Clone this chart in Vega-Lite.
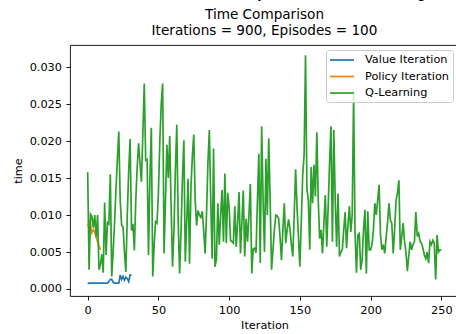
{
  "$schema": "https://vega.github.io/schema/vega-lite/v6.json",
  "width": 389,
  "height": 251,
  "autosize": {"type": "none"},
  "padding": {"left": 70, "top": 45, "right": 0, "bottom": 38},
  "title": {
    "text": "Value Iteration vs Policy Iteration vs Q-Learning",
    "subtitle": ["Time Comparison", "Iterations = 900, Episodes = 100"],
    "anchor": "middle",
    "offset": 7,
    "subtitlePadding": 7
  },
  "data": {"values": [
    {"iteration":0,"time":0.0007,"method":"Value Iteration"},{"iteration":1,"time":0.0008,"method":"Value Iteration"},{"iteration":2,"time":0.0008,"method":"Value Iteration"},{"iteration":3,"time":0.0008,"method":"Value Iteration"},{"iteration":4,"time":0.0008,"method":"Value Iteration"},{"iteration":5,"time":0.0008,"method":"Value Iteration"},{"iteration":6,"time":0.0008,"method":"Value Iteration"},{"iteration":7,"time":0.0008,"method":"Value Iteration"},{"iteration":8,"time":0.0008,"method":"Value Iteration"},{"iteration":9,"time":0.0008,"method":"Value Iteration"},{"iteration":10,"time":0.0008,"method":"Value Iteration"},{"iteration":11,"time":0.0008,"method":"Value Iteration"},{"iteration":12,"time":0.0008,"method":"Value Iteration"},{"iteration":13,"time":0.0008,"method":"Value Iteration"},{"iteration":14,"time":0.0008,"method":"Value Iteration"},{"iteration":15,"time":0.0010,"method":"Value Iteration"},{"iteration":16,"time":0.0013,"method":"Value Iteration"},{"iteration":17,"time":0.0013,"method":"Value Iteration"},{"iteration":18,"time":0.0009,"method":"Value Iteration"},{"iteration":19,"time":0.0008,"method":"Value Iteration"},{"iteration":20,"time":0.0008,"method":"Value Iteration"},{"iteration":21,"time":0.0008,"method":"Value Iteration"},{"iteration":22,"time":0.0008,"method":"Value Iteration"},{"iteration":23,"time":0.0019,"method":"Value Iteration"},{"iteration":24,"time":0.0013,"method":"Value Iteration"},{"iteration":25,"time":0.0017,"method":"Value Iteration"},{"iteration":26,"time":0.0012,"method":"Value Iteration"},{"iteration":27,"time":0.0016,"method":"Value Iteration"},{"iteration":28,"time":0.0014,"method":"Value Iteration"},{"iteration":29,"time":0.0010,"method":"Value Iteration"},{"iteration":30,"time":0.0019,"method":"Value Iteration"},{"iteration":31,"time":0.0019,"method":"Value Iteration"},
    {"iteration":0,"time":0.0085,"method":"Policy Iteration"},{"iteration":1,"time":0.0092,"method":"Policy Iteration"},{"iteration":2,"time":0.0088,"method":"Policy Iteration"},{"iteration":3,"time":0.0076,"method":"Policy Iteration"},{"iteration":4,"time":0.0080,"method":"Policy Iteration"},{"iteration":5,"time":0.0077,"method":"Policy Iteration"},{"iteration":6,"time":0.0070,"method":"Policy Iteration"},{"iteration":7,"time":0.0064,"method":"Policy Iteration"},{"iteration":8,"time":0.0058,"method":"Policy Iteration"},{"iteration":9,"time":0.0053,"method":"Policy Iteration"},
    {"iteration":0,"time":0.0158,"method":"Q-Learning"},{"iteration":1,"time":0.0026,"method":"Q-Learning"},{"iteration":2,"time":0.0101,"method":"Q-Learning"},{"iteration":3,"time":0.0098,"method":"Q-Learning"},{"iteration":4,"time":0.0083,"method":"Q-Learning"},{"iteration":5,"time":0.0100,"method":"Q-Learning"},{"iteration":6,"time":0.0070,"method":"Q-Learning"},{"iteration":7,"time":0.0100,"method":"Q-Learning"},{"iteration":8,"time":0.0026,"method":"Q-Learning"},{"iteration":9,"time":0.0033,"method":"Q-Learning"},
    {"iteration":10,"time":0.0047,"method":"Q-Learning"},{"iteration":11,"time":0.0022,"method":"Q-Learning"},{"iteration":12,"time":0.0117,"method":"Q-Learning"},{"iteration":13,"time":0.0046,"method":"Q-Learning"},{"iteration":14,"time":0.0090,"method":"Q-Learning"},{"iteration":15,"time":0.0088,"method":"Q-Learning"},{"iteration":16,"time":0.0155,"method":"Q-Learning"},{"iteration":17,"time":0.0017,"method":"Q-Learning"},{"iteration":18,"time":0.0050,"method":"Q-Learning"},{"iteration":19,"time":0.0090,"method":"Q-Learning"},
    {"iteration":20,"time":0.0135,"method":"Q-Learning"},{"iteration":21,"time":0.0175,"method":"Q-Learning"},{"iteration":22,"time":0.0213,"method":"Q-Learning"},{"iteration":23,"time":0.0120,"method":"Q-Learning"},{"iteration":24,"time":0.0086,"method":"Q-Learning"},{"iteration":25,"time":0.0084,"method":"Q-Learning"},{"iteration":26,"time":0.0050,"method":"Q-Learning"},{"iteration":27,"time":0.0023,"method":"Q-Learning"},{"iteration":28,"time":0.0100,"method":"Q-Learning"},{"iteration":29,"time":0.0160,"method":"Q-Learning"},
    {"iteration":30,"time":0.0203,"method":"Q-Learning"},{"iteration":31,"time":0.0079,"method":"Q-Learning"},{"iteration":32,"time":0.0088,"method":"Q-Learning"},{"iteration":33,"time":0.0052,"method":"Q-Learning"},{"iteration":34,"time":0.0120,"method":"Q-Learning"},{"iteration":35,"time":0.0165,"method":"Q-Learning"},{"iteration":36,"time":0.0197,"method":"Q-Learning"},{"iteration":37,"time":0.0170,"method":"Q-Learning"},{"iteration":38,"time":0.0145,"method":"Q-Learning"},{"iteration":39,"time":0.0210,"method":"Q-Learning"},
    {"iteration":40,"time":0.0278,"method":"Q-Learning"},{"iteration":41,"time":0.0174,"method":"Q-Learning"},{"iteration":42,"time":0.0175,"method":"Q-Learning"},{"iteration":43,"time":0.0046,"method":"Q-Learning"},{"iteration":44,"time":0.0150,"method":"Q-Learning"},{"iteration":45,"time":0.0218,"method":"Q-Learning"},{"iteration":46,"time":0.0017,"method":"Q-Learning"},{"iteration":47,"time":0.0060,"method":"Q-Learning"},{"iteration":48,"time":0.0091,"method":"Q-Learning"},{"iteration":49,"time":0.0089,"method":"Q-Learning"},
    {"iteration":50,"time":0.0130,"method":"Q-Learning"},{"iteration":51,"time":0.0200,"method":"Q-Learning"},{"iteration":52,"time":0.0250,"method":"Q-Learning"},{"iteration":53,"time":0.0278,"method":"Q-Learning"},{"iteration":54,"time":0.0048,"method":"Q-Learning"},{"iteration":55,"time":0.0120,"method":"Q-Learning"},{"iteration":56,"time":0.0195,"method":"Q-Learning"},{"iteration":57,"time":0.0150,"method":"Q-Learning"},{"iteration":58,"time":0.0207,"method":"Q-Learning"},{"iteration":59,"time":0.0110,"method":"Q-Learning"},
    {"iteration":60,"time":0.0030,"method":"Q-Learning"},{"iteration":61,"time":0.0080,"method":"Q-Learning"},{"iteration":62,"time":0.0160,"method":"Q-Learning"},{"iteration":63,"time":0.0222,"method":"Q-Learning"},{"iteration":64,"time":0.0090,"method":"Q-Learning"},{"iteration":65,"time":0.0021,"method":"Q-Learning"},{"iteration":66,"time":0.0080,"method":"Q-Learning"},{"iteration":67,"time":0.0150,"method":"Q-Learning"},{"iteration":68,"time":0.0201,"method":"Q-Learning"},{"iteration":69,"time":0.0037,"method":"Q-Learning"},
    {"iteration":70,"time":0.0090,"method":"Q-Learning"},{"iteration":71,"time":0.0149,"method":"Q-Learning"},{"iteration":72,"time":0.0034,"method":"Q-Learning"},{"iteration":73,"time":0.0137,"method":"Q-Learning"},{"iteration":74,"time":0.0180,"method":"Q-Learning"},{"iteration":75,"time":0.0209,"method":"Q-Learning"},{"iteration":76,"time":0.0120,"method":"Q-Learning"},{"iteration":77,"time":0.0086,"method":"Q-Learning"},{"iteration":78,"time":0.0106,"method":"Q-Learning"},{"iteration":79,"time":0.0100,"method":"Q-Learning"},
    {"iteration":80,"time":0.0097,"method":"Q-Learning"},{"iteration":81,"time":0.0105,"method":"Q-Learning"},{"iteration":82,"time":0.0080,"method":"Q-Learning"},{"iteration":83,"time":0.0048,"method":"Q-Learning"},{"iteration":84,"time":0.0100,"method":"Q-Learning"},{"iteration":85,"time":0.0170,"method":"Q-Learning"},{"iteration":86,"time":0.0215,"method":"Q-Learning"},{"iteration":87,"time":0.0120,"method":"Q-Learning"},{"iteration":88,"time":0.0041,"method":"Q-Learning"},{"iteration":89,"time":0.0190,"method":"Q-Learning"},
    {"iteration":90,"time":0.0030,"method":"Q-Learning"},{"iteration":91,"time":0.0040,"method":"Q-Learning"},{"iteration":92,"time":0.0116,"method":"Q-Learning"},{"iteration":93,"time":0.0060,"method":"Q-Learning"},{"iteration":94,"time":0.0100,"method":"Q-Learning"},{"iteration":95,"time":0.0134,"method":"Q-Learning"},{"iteration":96,"time":0.0064,"method":"Q-Learning"},{"iteration":97,"time":0.0156,"method":"Q-Learning"},{"iteration":98,"time":0.0062,"method":"Q-Learning"},{"iteration":99,"time":0.0130,"method":"Q-Learning"},
    {"iteration":100,"time":0.0110,"method":"Q-Learning"},{"iteration":101,"time":0.0066,"method":"Q-Learning"},{"iteration":102,"time":0.0064,"method":"Q-Learning"},{"iteration":103,"time":0.0062,"method":"Q-Learning"},{"iteration":104,"time":0.0112,"method":"Q-Learning"},{"iteration":105,"time":0.0057,"method":"Q-Learning"},{"iteration":106,"time":0.0090,"method":"Q-Learning"},{"iteration":107,"time":0.0131,"method":"Q-Learning"},{"iteration":108,"time":0.0048,"method":"Q-Learning"},{"iteration":109,"time":0.0090,"method":"Q-Learning"},
    {"iteration":110,"time":0.0133,"method":"Q-Learning"},{"iteration":111,"time":0.0044,"method":"Q-Learning"},{"iteration":112,"time":0.0095,"method":"Q-Learning"},{"iteration":113,"time":0.0064,"method":"Q-Learning"},{"iteration":114,"time":0.0100,"method":"Q-Learning"},{"iteration":115,"time":0.0142,"method":"Q-Learning"},{"iteration":116,"time":0.0021,"method":"Q-Learning"},{"iteration":117,"time":0.0054,"method":"Q-Learning"},{"iteration":118,"time":0.0055,"method":"Q-Learning"},{"iteration":119,"time":0.0049,"method":"Q-Learning"},
    {"iteration":120,"time":0.0120,"method":"Q-Learning"},{"iteration":121,"time":0.0183,"method":"Q-Learning"},{"iteration":122,"time":0.0035,"method":"Q-Learning"},{"iteration":123,"time":0.0220,"method":"Q-Learning"},{"iteration":124,"time":0.0120,"method":"Q-Learning"},{"iteration":125,"time":0.0050,"method":"Q-Learning"},{"iteration":126,"time":0.0176,"method":"Q-Learning"},{"iteration":127,"time":0.0100,"method":"Q-Learning"},{"iteration":128,"time":0.0204,"method":"Q-Learning"},{"iteration":129,"time":0.0120,"method":"Q-Learning"},
    {"iteration":130,"time":0.0026,"method":"Q-Learning"},{"iteration":131,"time":0.0053,"method":"Q-Learning"},{"iteration":132,"time":0.0080,"method":"Q-Learning"},{"iteration":133,"time":0.0100,"method":"Q-Learning"},{"iteration":134,"time":0.0099,"method":"Q-Learning"},{"iteration":135,"time":0.0095,"method":"Q-Learning"},{"iteration":136,"time":0.0070,"method":"Q-Learning"},{"iteration":137,"time":0.0039,"method":"Q-Learning"},{"iteration":138,"time":0.0080,"method":"Q-Learning"},{"iteration":139,"time":0.0116,"method":"Q-Learning"},
    {"iteration":140,"time":0.0062,"method":"Q-Learning"},{"iteration":141,"time":0.0080,"method":"Q-Learning"},{"iteration":142,"time":0.0094,"method":"Q-Learning"},{"iteration":143,"time":0.0082,"method":"Q-Learning"},{"iteration":144,"time":0.0060,"method":"Q-Learning"},{"iteration":145,"time":0.0044,"method":"Q-Learning"},{"iteration":146,"time":0.0100,"method":"Q-Learning"},{"iteration":147,"time":0.0162,"method":"Q-Learning"},{"iteration":148,"time":0.0110,"method":"Q-Learning"},{"iteration":149,"time":0.0071,"method":"Q-Learning"},
    {"iteration":150,"time":0.0030,"method":"Q-Learning"},{"iteration":151,"time":0.0090,"method":"Q-Learning"},{"iteration":152,"time":0.0154,"method":"Q-Learning"},{"iteration":153,"time":0.0181,"method":"Q-Learning"},{"iteration":154,"time":0.0316,"method":"Q-Learning"},{"iteration":155,"time":0.0135,"method":"Q-Learning"},{"iteration":156,"time":0.0120,"method":"Q-Learning"},{"iteration":157,"time":0.0053,"method":"Q-Learning"},{"iteration":158,"time":0.0165,"method":"Q-Learning"},{"iteration":159,"time":0.0116,"method":"Q-Learning"},
    {"iteration":160,"time":0.0168,"method":"Q-Learning"},{"iteration":161,"time":0.0125,"method":"Q-Learning"},{"iteration":162,"time":0.0212,"method":"Q-Learning"},{"iteration":163,"time":0.0120,"method":"Q-Learning"},{"iteration":164,"time":0.0068,"method":"Q-Learning"},{"iteration":165,"time":0.0080,"method":"Q-Learning"},{"iteration":166,"time":0.0048,"method":"Q-Learning"},{"iteration":167,"time":0.0090,"method":"Q-Learning"},{"iteration":168,"time":0.0127,"method":"Q-Learning"},{"iteration":169,"time":0.0057,"method":"Q-Learning"},
    {"iteration":170,"time":0.0110,"method":"Q-Learning"},{"iteration":171,"time":0.0170,"method":"Q-Learning"},{"iteration":172,"time":0.0220,"method":"Q-Learning"},{"iteration":173,"time":0.0064,"method":"Q-Learning"},{"iteration":174,"time":0.0215,"method":"Q-Learning"},{"iteration":175,"time":0.0120,"method":"Q-Learning"},{"iteration":176,"time":0.0057,"method":"Q-Learning"},{"iteration":177,"time":0.0129,"method":"Q-Learning"},{"iteration":178,"time":0.0044,"method":"Q-Learning"},{"iteration":179,"time":0.0050,"method":"Q-Learning"},
    {"iteration":180,"time":0.0053,"method":"Q-Learning"},{"iteration":181,"time":0.0080,"method":"Q-Learning"},{"iteration":182,"time":0.0104,"method":"Q-Learning"},{"iteration":183,"time":0.0055,"method":"Q-Learning"},{"iteration":184,"time":0.0086,"method":"Q-Learning"},{"iteration":185,"time":0.0112,"method":"Q-Learning"},{"iteration":186,"time":0.0077,"method":"Q-Learning"},{"iteration":187,"time":0.0100,"method":"Q-Learning"},{"iteration":188,"time":0.0264,"method":"Q-Learning"},{"iteration":189,"time":0.0077,"method":"Q-Learning"},
    {"iteration":190,"time":0.0022,"method":"Q-Learning"},{"iteration":191,"time":0.0073,"method":"Q-Learning"},{"iteration":192,"time":0.0075,"method":"Q-Learning"},{"iteration":193,"time":0.0026,"method":"Q-Learning"},{"iteration":194,"time":0.0039,"method":"Q-Learning"},{"iteration":195,"time":0.0080,"method":"Q-Learning"},{"iteration":196,"time":0.0107,"method":"Q-Learning"},{"iteration":197,"time":0.0021,"method":"Q-Learning"},{"iteration":198,"time":0.0105,"method":"Q-Learning"},{"iteration":199,"time":0.0053,"method":"Q-Learning"},
    {"iteration":200,"time":0.0053,"method":"Q-Learning"},{"iteration":201,"time":0.0060,"method":"Q-Learning"},{"iteration":202,"time":0.0080,"method":"Q-Learning"},{"iteration":203,"time":0.0116,"method":"Q-Learning"},{"iteration":204,"time":0.0100,"method":"Q-Learning"},{"iteration":205,"time":0.0120,"method":"Q-Learning"},{"iteration":206,"time":0.0141,"method":"Q-Learning"},{"iteration":207,"time":0.0073,"method":"Q-Learning"},{"iteration":208,"time":0.0053,"method":"Q-Learning"},{"iteration":209,"time":0.0060,"method":"Q-Learning"},
    {"iteration":210,"time":0.0048,"method":"Q-Learning"},{"iteration":211,"time":0.0070,"method":"Q-Learning"},{"iteration":212,"time":0.0090,"method":"Q-Learning"},{"iteration":213,"time":0.0116,"method":"Q-Learning"},{"iteration":214,"time":0.0093,"method":"Q-Learning"},{"iteration":215,"time":0.0089,"method":"Q-Learning"},{"iteration":216,"time":0.0048,"method":"Q-Learning"},{"iteration":217,"time":0.0080,"method":"Q-Learning"},{"iteration":218,"time":0.0120,"method":"Q-Learning"},{"iteration":219,"time":0.0130,"method":"Q-Learning"},
    {"iteration":220,"time":0.0147,"method":"Q-Learning"},{"iteration":221,"time":0.0053,"method":"Q-Learning"},{"iteration":222,"time":0.0070,"method":"Q-Learning"},{"iteration":223,"time":0.0089,"method":"Q-Learning"},{"iteration":224,"time":0.0064,"method":"Q-Learning"},{"iteration":225,"time":0.0050,"method":"Q-Learning"},{"iteration":226,"time":0.0024,"method":"Q-Learning"},{"iteration":227,"time":0.0045,"method":"Q-Learning"},{"iteration":228,"time":0.0064,"method":"Q-Learning"},{"iteration":229,"time":0.0053,"method":"Q-Learning"},
    {"iteration":230,"time":0.0060,"method":"Q-Learning"},{"iteration":231,"time":0.0064,"method":"Q-Learning"},{"iteration":232,"time":0.0104,"method":"Q-Learning"},{"iteration":233,"time":0.0071,"method":"Q-Learning"},{"iteration":234,"time":0.0075,"method":"Q-Learning"},{"iteration":235,"time":0.0064,"method":"Q-Learning"},{"iteration":236,"time":0.0062,"method":"Q-Learning"},{"iteration":237,"time":0.0055,"method":"Q-Learning"},{"iteration":238,"time":0.0046,"method":"Q-Learning"},{"iteration":239,"time":0.0041,"method":"Q-Learning"},
    {"iteration":240,"time":0.0050,"method":"Q-Learning"},{"iteration":241,"time":0.0035,"method":"Q-Learning"},{"iteration":242,"time":0.0064,"method":"Q-Learning"},{"iteration":243,"time":0.0060,"method":"Q-Learning"},{"iteration":244,"time":0.0066,"method":"Q-Learning"},{"iteration":245,"time":0.0062,"method":"Q-Learning"},{"iteration":246,"time":0.0013,"method":"Q-Learning"},{"iteration":247,"time":0.0073,"method":"Q-Learning"},{"iteration":248,"time":0.0050,"method":"Q-Learning"},{"iteration":249,"time":0.0053,"method":"Q-Learning"},
    {"iteration":250,"time":0.0052,"method":"Q-Learning"}
  ]},
  "mark": {"type": "line", "strokeWidth": 1.7},
  "encoding": {
    "x": {
      "field": "iteration", "type": "quantitative",
      "scale": {"domain": [-12.5, 262.5], "nice": false, "zero": false},
      "axis": {"values": [0, 50, 100, 150, 200, 250], "title": "Iteration", "labelFlush": false}
    },
    "y": {
      "field": "time", "type": "quantitative",
      "scale": {"domain": [-0.00095, 0.033], "nice": false, "zero": false},
      "axis": {"values": [0, 0.005, 0.01, 0.015, 0.02, 0.025, 0.03], "format": ".3f", "title": "time"}
    },
    "color": {
      "field": "method", "type": "nominal",
      "scale": {"domain": ["Value Iteration", "Policy Iteration", "Q-Learning"], "range": ["#1f77b4", "#ff7f0e", "#2ca02c"]},
      "legend": {
        "orient": "none", "legendX": 256, "legendY": 5, "title": null,
        "symbolType": "M-1,0H3", "symbolSize": 144, "symbolStrokeWidth": 1.7,
        "labelOffset": 22, "labelFontSize": 11.3, "labelColor": "#000", "labelFont": "DejaVu Sans",
        "padding": 3, "rowPadding": 3.5,
        "fillColor": "rgba(255,255,255,0.8)", "strokeColor": "#cccccc", "cornerRadius": 3
      }
    }
  },
  "config": {
    "font": "DejaVu Sans",
    "background": "white",
    "view": {"stroke": "#000", "strokeWidth": 0.9},
    "title": {
      "font": "DejaVu Sans", "fontSize": 13.6, "fontWeight": "normal", "color": "#000", "lineHeight": 16.5,
      "subtitleFont": "DejaVu Sans", "subtitleFontSize": 13.6, "subtitleFontWeight": "normal", "subtitleColor": "#000", "subtitleLineHeight": 16.5
    },
    "axis": {
      "labelFont": "DejaVu Sans", "labelFontSize": 11.3, "labelColor": "#000",
      "titleFont": "DejaVu Sans", "titleFontSize": 11.3, "titleFontWeight": "normal", "titleColor": "#000",
      "tickColor": "#000", "tickSize": 4, "tickWidth": 0.9, "domain": false, "grid": false, "labelPadding": 4
    },
    "axisX": {"titlePadding": 4},
    "axisY": {"titlePadding": 6, "labelPadding": 4.5}
  }
}
